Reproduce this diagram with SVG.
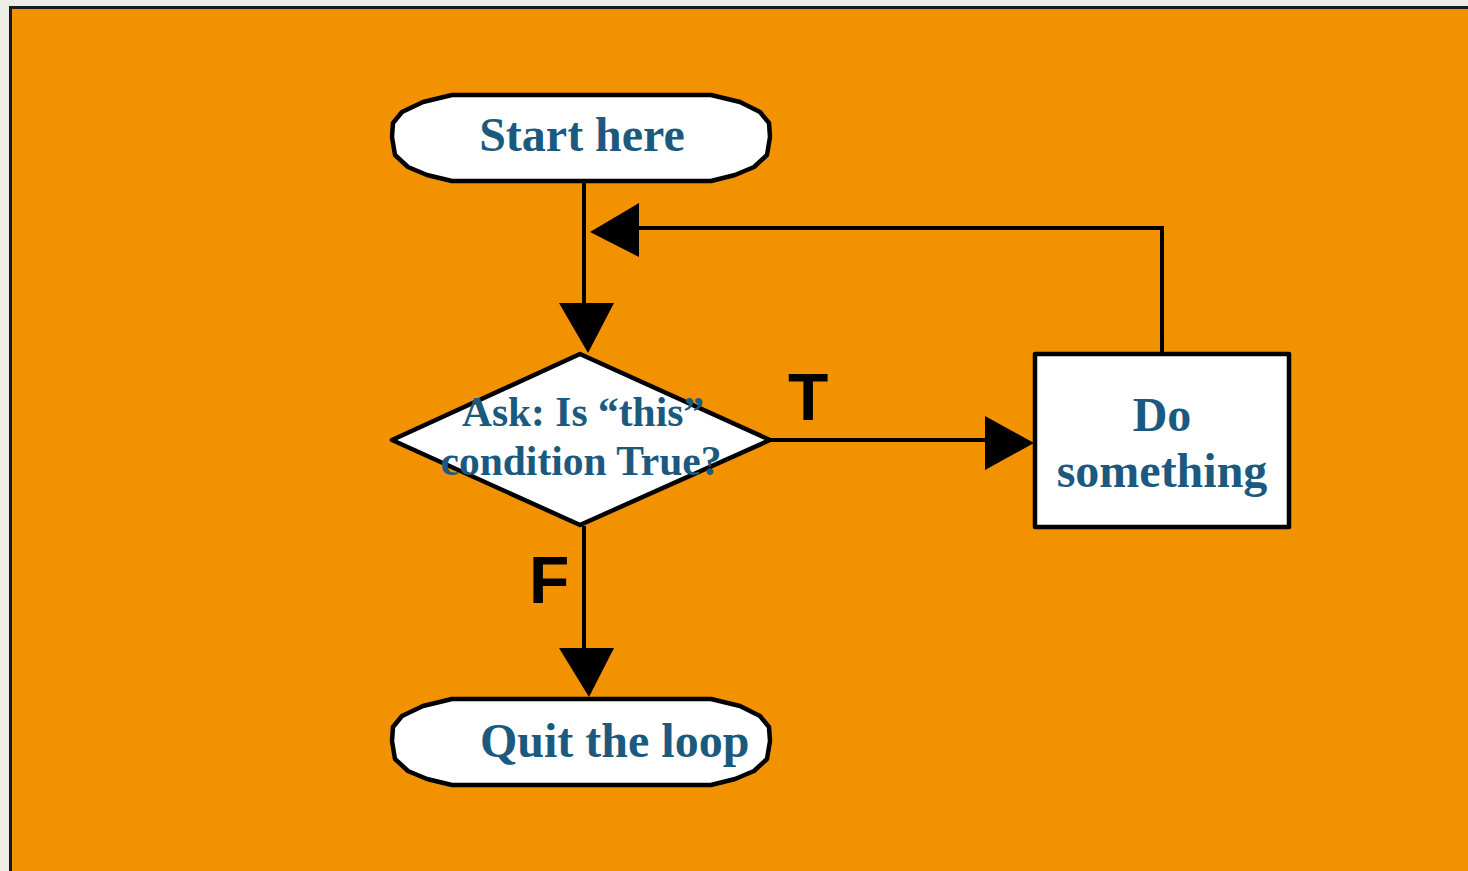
<svg xmlns="http://www.w3.org/2000/svg" width="1468" height="871" viewBox="0 0 1468 871">
<style>
.shape{fill:#ffffff;stroke:#000000;stroke-width:4.5;stroke-linejoin:round}
.lbl{font-family:"Liberation Serif","Times New Roman",serif;font-weight:bold;fill:#1b5a7e}
.tf{font-family:"Liberation Sans",Arial,sans-serif;font-weight:bold;fill:#000000;font-size:66px}
.conn{fill:none;stroke:#000000;stroke-width:4}
.head{fill:#000000;stroke:none}
</style>
<rect x="0" y="0" width="1468" height="871" fill="#eeece6"/>
<rect x="10.5" y="7.5" width="1470" height="880" fill="#f39200" stroke="#1a1a1a" stroke-width="3"/>
<g id="connectors">
<polyline class="conn" points="584,182 584,306"/>
<polygon class="head" points="559,303 614,303 588,353"/>
<polyline class="conn" points="1162,354 1162,228 636,228"/>
<polygon class="head" points="639,203 639,257 590,232"/>
<polyline class="conn" points="770,440 988,440"/>
<polygon class="head" points="985,416 985,470 1034,443"/>
<polyline class="conn" points="584,526 584,651"/>
<polygon class="head" points="559,648 614,648 589,697"/>
<text class="tf" x="788" y="420">T</text>
<text class="tf" x="529" y="603">F</text>
</g>
<g id="start">
<polygon class="shape" points="452,95 711,95 740,102 760,112 769,123 770,137 767,155 754,167 735,175 711,181 452,181 427,175 408,167 395,155 392,137 393,123 402,112 423,102"/>
<text class="lbl" x="582" y="151" font-size="48" text-anchor="middle">Start here</text>
</g>
<g id="decision">
<polygon class="shape" points="580,354 770,440 580,525 392,440"/>
<text class="lbl" x="583" y="426" font-size="41.5" text-anchor="middle">Ask: Is “this”</text>
<text class="lbl" x="581" y="475" font-size="41.5" text-anchor="middle">condition True?</text>
</g>
<g id="do">
<rect class="shape" x="1035" y="354" width="254" height="173" stroke-linejoin="miter"/>
<text class="lbl" x="1162" y="431" font-size="48" text-anchor="middle">Do</text>
<text class="lbl" x="1162" y="487" font-size="48" text-anchor="middle">something</text>
</g>
<g id="quit">
<polygon class="shape" points="452,699 711,699 740,706 760,716 769,727 770,741 767,759 754,771 735,779 711,785 452,785 427,779 408,771 395,759 392,741 393,727 402,716 423,706"/>
<text class="lbl" x="480" y="757" font-size="48">Quit the loop</text>
</g>
</svg>
